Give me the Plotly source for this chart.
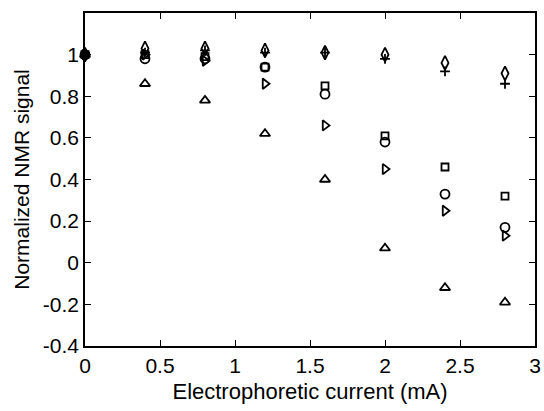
import plotly.graph_objects as go

current = [0, 0.4, 0.8, 1.2, 1.6, 2.0, 2.4, 2.8]
diamond = [1.0, 1.03, 1.03, 1.02, 1.01, 1.00, 0.96, 0.91]
plus = [1.0, 1.01, 1.02, 1.01, 1.01, 0.98, 0.92, 0.86]
square = [1.0, 1.00, 0.99, 0.94, 0.85, 0.61, 0.46, 0.32]
circle = [1.0, 0.98, 0.98, 0.94, 0.81, 0.58, 0.33, 0.17]
tri_right = [1.0, 1.00, 0.97, 0.86, 0.66, 0.45, 0.25, 0.13]
tri_up = [1.0, 0.86, 0.78, 0.62, 0.40, 0.07, -0.12, -0.19]

xticks = [0, 0.5, 1, 1.5, 2, 2.5, 3]
xticklabels = ["0", "0.5", "1", "1.5", "2", "2.5", "3"]
yticks = [-0.4, -0.2, 0, 0.2, 0.4, 0.6, 0.8, 1.0, 1.2]
yticklabels = ["-0.4", "-0.2", "0", "0.2", "0.4", "0.6", "0.8", "1", ""]

series = [
    (diamond, "diamond-tall-open", 10),
    (plus, "cross-thin", 7),
    (square, "square-open", 7),
    (circle, "circle-open", 9),
    (tri_right, "triangle-right-open", 9),
    (tri_up, "triangle-up-open", 9),
]

fig = go.Figure()
for ys, sym, sz in series:
    fig.add_trace(go.Scatter(
        x=current, y=ys, mode="markers",
        marker=dict(symbol=sym, size=sz, color="black",
                    line=dict(color="black", width=1.8)),
        showlegend=False,
    ))
# filled dot at origin where all markers overlap
fig.add_trace(go.Scatter(x=[current[0]], y=[1.0], mode="markers",
                         marker=dict(symbol="circle", size=10, color="black"),
                         showlegend=False))

font = dict(family="Liberation Sans, Arial, sans-serif", size=21, color="black")
fig.update_layout(
    width=544, height=411,
    margin=dict(l=85, r=9, t=13, b=65),
    paper_bgcolor="white", plot_bgcolor="white",
    font=font,
)
fig.update_traces(cliponaxis=False)
fig.update_xaxes(
    range=[0, 3], tickvals=xticks, ticktext=xticklabels, automargin=False,
    showline=True, linecolor="black", linewidth=1.5, mirror="ticks",
    ticks="inside", ticklen=6, tickcolor="black", tickwidth=1.3,
    showgrid=False, zeroline=False,
    title=dict(text="Electrophoretic current (mA)",
               font=dict(family=font["family"], size=22, color="black"), standoff=8),
)
fig.update_yaxes(
    range=[-0.4, 1.2], tickvals=yticks, ticktext=yticklabels, automargin=False,
    showline=True, linecolor="black", linewidth=1.5, mirror="ticks",
    ticks="inside", ticklen=6, tickcolor="black", tickwidth=1.3,
    showgrid=False, zeroline=False,
    title=dict(text="Normalized NMR signal", font=font, standoff=8),
)
fig.write_html("out.html")
